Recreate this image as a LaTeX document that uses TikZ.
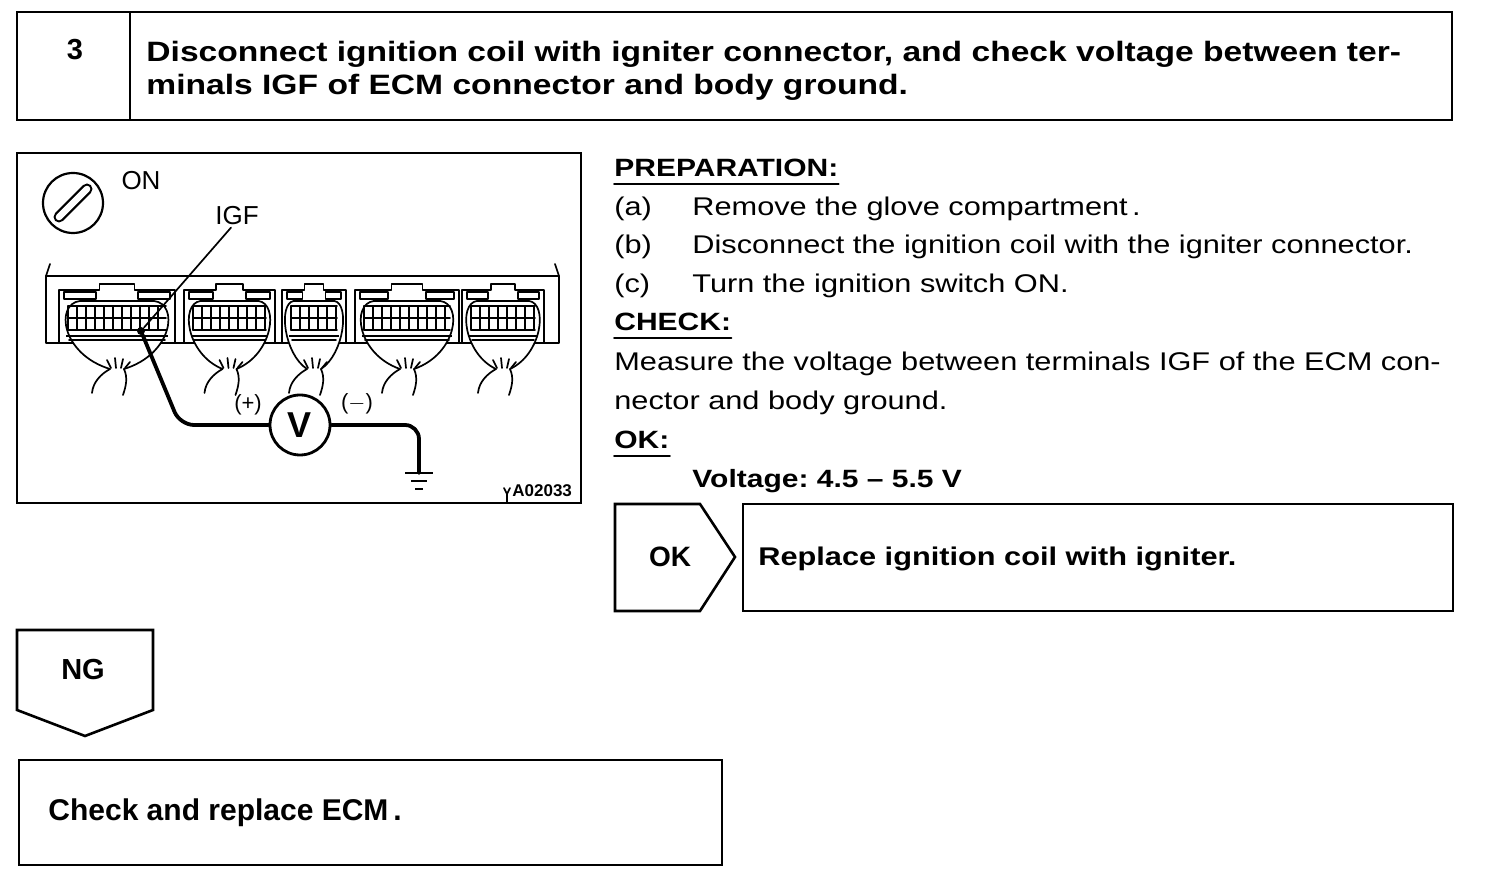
\documentclass[tikz,border=0pt]{standalone}
\usepackage{fontspec}
\setmainfont{Liberation Sans}
\newfontfamily\widefont{Liberation Sans}[FakeStretch=1.2]
\usepackage{tikz}
\usetikzlibrary{positioning}
\frenchspacing
\tikzstyle{frame} = [line width=1.3pt]
\tikzstyle{fig} = [line width=0.85pt, line cap=round, line join=round]
\tikzstyle{wire} = [line width=1.9pt, line cap=round, line join=round]
\tikzstyle{body} = [inner sep=0pt, anchor=base west, font=\widefont\fontsize{12.8}{15}\selectfont]
\tikzstyle{head} = [inner sep=0pt, anchor=base west, font=\widefont\bfseries\fontsize{12.5}{15}\selectfont]
\tikzstyle{label} = [inner sep=0pt, font=\fontsize{13}{15}\selectfont]

\begin{document}
\begin{tikzpicture}[x=0.5pt, y=-0.5pt]
      \useasboundingbox (0,0) rectangle (1504,886);
      % Title box
      \draw[frame] (17,12) rectangle (1452,120);
      \draw[frame] (130,12) -- (130,120);
      \node[font=\bfseries\fontsize{14.5}{16}\selectfont] (stepno) at (75,50) {3};
      \node[inner sep=0pt, anchor=base west, align=left,
            font=\widefont\bfseries\fontsize{14}{16.5}\selectfont] (title) at (146,95)
        {Disconnect ignition coil with igniter connector, and check voltage between ter-\\
         minals IGF of ECM connector and body ground.};

      % Figure
      \draw[frame] (17,153) rectangle (581,503);
      \node[circle, draw, line width=1.1pt, minimum size=30pt] (key) at (73,203) {};
      \draw[line width=5.5pt, line cap=round] (59,217) -- (87,189);
      \draw[line width=3.3pt, line cap=round, white] (59,217) -- (87,189);
      \node[label] (on) at (141,181) {ON};
      \node[label] (igf) at (237,216) {IGF};

      % ECM housing
      \draw[fig] (46,343) -- (46,276) -- (559,276) -- (559,343) -- cycle;
      \draw[fig] (46,276) -- (50,264);
      \draw[fig] (559,276) -- (555,264);
      \foreach \a/\b in {59/175, 184/275, 282/346, 355/459, 462/544} {
        \pgfmathsetmacro{\w}{\b-\a}
        \pgfmathsetmacro{\m}{(\a+\b)/2}
        \pgfmathsetmacro{\e}{\w-9}
        \draw[fig] (\a,343) -- (\a,290) -- (\m-0.15*\w,290) -- (\m-0.15*\w,284)
          -- (\m+0.15*\w,284) -- (\m+0.15*\w,290) -- (\b,290) -- (\b,343);
        \draw[fig] (\a+5,299) rectangle (\a+0.32*\w,292);
        \draw[fig] (\b-0.32*\w,299) rectangle (\b-5,292);
        \draw[fig, fill=white] (\m-7,369) .. controls (\a+2,354) and (\a-4,304) .. (\a+0.18*\w,301)
          -- (\b-0.18*\w,301) .. controls (\b+4,304) and (\b-2,354) .. (\m+7,369);
        \foreach \gy in {306,318,330}
          \draw[fig] (\a+9,\gy) -- (\b-9,\gy);
        \foreach \gx in {9,18,...,\e}
          \draw[fig] (\a+\gx,306) -- (\a+\gx,330);
        \draw[line width=1.2pt] (\a+7,336) -- (\b-7,336);
        \draw[fig] (\a+10,340) -- (\b-10,340);
        % wire bundle
        \draw[fig] (\m-7,369) .. controls (\m-16,374) and (\m-24,382) .. (\m-25,393);
        \draw[fig] (\m+7,369) .. controls (\m+11,378) and (\m+9,386) .. (\m+6,395);
        \draw[fig] (\m-6,368) -- (\m-10,360);
        \draw[fig] (\m-1,368) -- (\m-2,358);
        \draw[fig] (\m+4,368) -- (\m+6,359);
        \draw[fig] (\m+8,368) -- (\m+13,362);
      }

      % Meter
      \node[circle, fill=black, minimum size=4pt, inner sep=0pt] (igfpin) at (141,331) {};
      \node[circle, draw, line width=1.4pt, minimum size=30pt, inner sep=0pt,
            font=\bfseries\fontsize{18}{18}\selectfont] (vm) at (300,425) {V};
      \coordinate (gnd) at (419,473);
      \node[label, font=\fontsize{11}{13}\selectfont] (plus) at (248,405) {(+)};
      \node[label, font=\fontsize{11}{13}\selectfont] (minus) at (357,404) {($-$)};
      \draw[fig] ([xshift=-3pt, yshift=-1pt]igf.south) -- (igfpin);
      \draw[wire, rounded corners=7pt] (igfpin) -- (180,425) -- (vm.west);
      \draw[wire, rounded corners=7pt] (vm.east) -- (419,425) -- (gnd);
      \draw[line width=1.3pt] (405,473) -- (433,473);
      \draw[line width=1.3pt] (411,481) -- (427,481);
      \draw[line width=1.3pt] (415,489) -- (423,489);
      \draw[fig] (507,503) -- (507,494) -- (504,488);
      \draw[fig] (507,494) -- (510,488);
      \node[inner sep=0pt, anchor=base west, font=\bfseries\fontsize{8.5}{10}\selectfont] (figno) at (512,497) {A02033};

      % Preparation and check
      \node[head] (prep) at (614,177) {PREPARATION:};
      \draw[fig, line width=1pt] ([yshift=-3.5pt]prep.base west) -- ([yshift=-3.5pt]prep.base east);
      \node[body] (pa) at (614,216) {(a)};
      \node[body] (ta) at (692,216) {Remove the glove compartment\,.};
      \node[body] (pb) at (614,254) {(b)};
      \node[body] (tb) at (692,254) {Disconnect the ignition coil with the igniter connector.};
      \node[body] (pc) at (614,293) {(c)};
      \node[body] (tc) at (692,293) {Turn the ignition switch ON.};
      \node[head] (check) at (614,331) {CHECK:};
      \draw[fig, line width=1pt] ([yshift=-3.5pt]check.base west) -- ([yshift=-3.5pt]check.base east);
      \node[body] (ma) at (614,371) {Measure the voltage between terminals IGF of the ECM con-};
      \node[body] (mb) at (614,410) {nector and body ground.};
      \node[head] (ok) at (614,449) {OK:};
      \draw[fig, line width=1pt] ([yshift=-3.5pt]ok.base west) -- ([yshift=-3.5pt]ok.base east);
      \node[head] (volt) at (692,488) {Voltage: 4.5 – 5.5 V};

      % Result boxes
      \draw[frame] (615,504) -- (700,504) -- (735,557) -- (700,611) -- (615,611) -- cycle;
      \node[font=\bfseries\fontsize{14}{16}\selectfont] (oktag) at (670,557) {OK};
      \draw[frame] (743,504) rectangle (1453,611);
      \node[head, font=\widefont\bfseries\fontsize{12.8}{15}\selectfont] (okres) at (758,566) {Replace ignition coil with igniter.};
      \draw[frame] (17,630) -- (153,630) -- (153,710) -- (85,736) -- (17,710) -- cycle;
      \node[font=\bfseries\fontsize{14.5}{16}\selectfont] (ngtag) at (83,670) {NG};
      \draw[frame] (19,760) rectangle (722,865);
      \node[inner sep=0pt, anchor=base west, font=\bfseries\fontsize{15}{17}\selectfont] (ngres) at (48,820) {Check and replace ECM\,.};
\end{tikzpicture}
\end{document}
